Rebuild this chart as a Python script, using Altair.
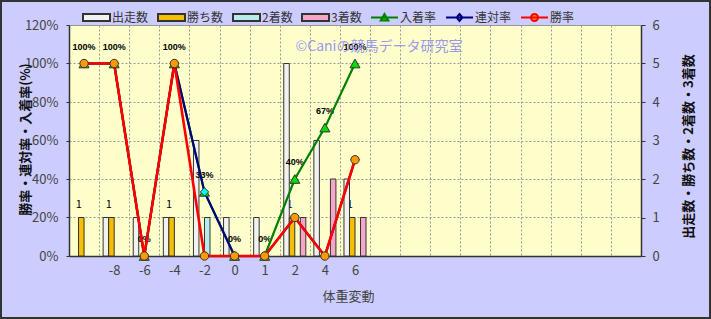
import json
import altair as alt
import pandas as pd

# ---------------- data ----------------
categories = ["", "-8", "-6", "-4", "-2", "0", "1", "2", "4", "6",
              "", "", "", "", "", "", "", "", ""]
runs = [0, 1, 1, 1, 3, 1, 1, 5, 3, 2]
wins = [1, 1, 0, 1, 0, 0, 0, 1, 0, 1]
seconds = [0, 0, 0, 0, 1, 0, 0, 0, 0, 0]
thirds = [0, 0, 0, 0, 0, 0, 0, 1, 2, 1]
win_rate = [1.0, 1.0, 0.0, 1.0, 0.0, 0.0, 0.0, 0.2, 0.0, 0.5]
rentai_rate = [1.0, 1.0, 0.0, 1.0, 0.333, 0.0, 0.0, 0.2, 0.0, 0.5]
place_rate = [1.0, 1.0, 0.0, 1.0, 0.333, 0.0, 0.0, 0.4, 0.667, 1.0]

bar_series = ["出走数", "勝ち数", "2着数", "3着数"]
line_series = ["入着率", "連対率", "勝率"]
all_series = bar_series + line_series
fills = ["#F2F2F2", "#F5BE00", "#B8ECEC", "#F4A6C8", "#00DD00", "#00FFFF", "#FF9900"]
strokes = ["#333333", "#333333", "#333333", "#333333", "#008000", "#000080", "#FF0000"]
legend_paths = [
    "M-1,-0.26H1V0.26H-1Z",
    "M-1,-0.26H1V0.26H-1Z",
    "M-1,-0.26H1V0.26H-1Z",
    "M-1,-0.26H1V0.26H-1Z",
    "M-1,0H1M-0.28,0.22L0,-0.26L0.28,0.22Z",
    "M-1,0H1M0,-0.26L0.22,0L0,0.26L-0.22,0Z",
    "M-1,0H1M-0.26,0A0.26,0.26,0,1,0,0.26,0A0.26,0.26,0,1,0,-0.26,0Z",
]
watermark = "©Caniの競馬データ研究室"

# ---------------- tables ----------------
bar_rows = []
for i in range(len(runs)):
    for s, vals in zip(bar_series, [runs, wins, seconds, thirds]):
        if vals[i] > 0:
            bar_rows.append({"idx": i, "series": s, "count": vals[i]})
bars_df = pd.DataFrame(bar_rows)

rate_rows = []
for i in range(len(runs)):
    for s, vals in zip(line_series, [place_rate, rentai_rate, win_rate]):
        rate_rows.append({"idx": i, "series": s, "rate": vals[i]})
rates_df = pd.DataFrame(rate_rows)

legend_df = pd.DataFrame({"series": all_series})

JP = "Noto Sans CJK JP"

# ---------------- shared encodings ----------------
x_axis = alt.Axis(
    title="体重変動",
    labelExpr=json.dumps(categories) + "[datum.value]",
    labelAngle=0, ticks=False, tickBand="extent",
    grid=True, gridDash=[2, 2], gridColor="#999999",
    domainColor="#333333", domainWidth=1.5,
    labelFont=JP, labelFontSize=13, labelColor="#444444", labelPadding=8,
    titleFont=JP, titleFontSize=13, titleColor="#444444", titleFontWeight="normal",
    titleX=279, titleY=40, titleBaseline="middle",
)
x_enc = alt.X("idx:O", scale=alt.Scale(domain=list(range(len(categories))),
                                        paddingInner=0, paddingOuter=0),
              axis=x_axis)
xoff_enc = alt.XOffset("series:N", scale=alt.Scale(domain=bar_series,
                                                   paddingInner=0, paddingOuter=0.73))

rate_vals = [0, 0.2, 0.4, 0.6, 0.8, 1.0, 1.2]
left_axis = alt.Axis(
    orient="left", title="勝率・連対率・入着率(%)", values=rate_vals, format=".0%",
    grid=True, gridDash=[2, 2], gridColor="#999999",
    domainColor="#333333", domainWidth=1.5, tickSize=3, tickColor="#333333",
    labelFont=JP, labelFontSize=13, labelColor="#444444", labelPadding=8,
    titleFont=JP, titleFontSize=13, titleColor="#111111", titleFontWeight="bold",
    titleAngle=270, titleX=-44, titleY=114, titleAlign="center", titleBaseline="middle",
)
y_rate = alt.Y("rate:Q", scale=alt.Scale(domain=[0, 1.2]), axis=left_axis)
y_rate_noaxis = alt.Y("rate:Q", scale=alt.Scale(domain=[0, 1.2]), axis=None)

right_axis = alt.Axis(
    orient="right", title="出走数・勝ち数・2着数・3着数", values=[0, 1, 2, 3, 4, 5, 6],
    format="d", grid=False,
    domainColor="#333333", domainWidth=1.5, tickSize=4, tickColor="#333333",
    labelFont=JP, labelFontSize=13, labelColor="#444444", labelPadding=7,
    titleFont=JP, titleFontSize=13, titleColor="#111111", titleFontWeight="bold",
    titleAngle=270, titleX=47, titleY=121, titleAlign="center", titleBaseline="middle",
)
y_count = alt.Y("count:Q", scale=alt.Scale(domain=[0, 6]), axis=right_axis)

# ---------------- group A: count labels + bars ----------------
count_labels = alt.Chart(bars_df).transform_filter(
    alt.datum.series == "勝ち数"
).mark_text(font=JP, fontSize=11, color="#000000", dy=-13, dx=-2.5).encode(
    x=x_enc, xOffset=xoff_enc, y=y_count, text="count:Q")

def bar_for(name, color):
    return alt.Chart(bars_df).transform_filter(alt.datum.series == name).mark_bar(
        fill=color, stroke="#333333", strokeWidth=1).encode(
        x=x_enc, xOffset=xoff_enc, y=y_count)

gA = alt.layer(count_labels, *[bar_for(s, c) for s, c in zip(bar_series, fills[:4])])

# ---------------- group B: rate labels ----------------
rate_labels = alt.Chart(rates_df).transform_filter(
    alt.datum.series == "入着率"
).mark_text(font="Liberation Sans", fontWeight="bold", fontSize=9,
            color="#000000", dy=-17, dx=0).encode(
    x=x_enc, y=y_rate_noaxis, text=alt.Text("rate:Q", format=".0%"))
gB = alt.layer(rate_labels)

# ---------------- group C: lines + markers ----------------
def line_for(name, color, width):
    return alt.Chart(rates_df).transform_filter(alt.datum.series == name).mark_line(
        color=color, strokeWidth=width).encode(x=x_enc, y=y_rate)

def marker_for(name, shape, fill, size):
    return alt.Chart(rates_df).transform_filter(alt.datum.series == name).mark_point(
        shape=shape, filled=True, fill=fill, stroke="#333333", strokeWidth=1,
        size=size, opacity=1).encode(x=x_enc, y=y_rate)

gC = alt.layer(
    line_for("入着率", "#008000", 2.2),
    line_for("連対率", "#000080", 2.2),
    line_for("勝率", "#FF0000", 2.6),
    marker_for("入着率", "triangle-up", "#00DD00", 100),
    marker_for("連対率", "diamond", "#00FFFF", 70),
    marker_for("勝率", "circle", "#FF9900", 70),
)

# ---------------- group D: legend, watermark, frame ----------------
legend_obj = alt.Legend(
    orient="none", legendX=13, legendY=-22, direction="horizontal", columns=7,
    gridAlign="none",
    title=None, symbolSize=729, symbolStrokeWidth=2, symbolOpacity=1,
    labelFont=JP, labelFontSize=12, labelColor="#333333", labelOffset=1,
    columnPadding=5, padding=0,
)
legend_layer = alt.Chart(legend_df).mark_point(filled=True, size=0).encode(
    x=alt.value(0), y=alt.value(0),
    fill=alt.Fill("series:N", scale=alt.Scale(domain=all_series, range=fills),
                  legend=legend_obj),
    stroke=alt.Stroke("series:N", scale=alt.Scale(domain=all_series, range=strokes),
                      legend=legend_obj),
    shape=alt.Shape("series:N", scale=alt.Scale(domain=all_series, range=legend_paths),
                    legend=legend_obj),
)
wm = alt.Chart(pd.DataFrame({"t": [watermark]})).mark_text(
    font=JP, fontSize=14, color="#9A9AEE", align="center", baseline="middle").encode(
    text="t:N", x=alt.value(310), y=alt.value(22))
frame = alt.Chart(pd.DataFrame({"t": [0]})).mark_rect(
    fillOpacity=0, stroke="#333333", strokeWidth=2).encode(
    x=alt.value(-68), x2=alt.value(641), y=alt.value(-24), y2=alt.value(293))

chart = alt.layer(gA, gB, gC, legend_layer, wm, frame).resolve_scale(
    y="independent"
).properties(
    width=572, height=231,
    autosize=alt.AutoSizeParams(type="none"),
    padding={"left": 69, "top": 25, "right": 70, "bottom": 63},
    background="#CCCCFF",
).configure_view(fill="#FFFFCC", stroke="#999999", strokeWidth=1)

chart.save("out.html", embed_options={"renderer": "svg", "actions": False})
